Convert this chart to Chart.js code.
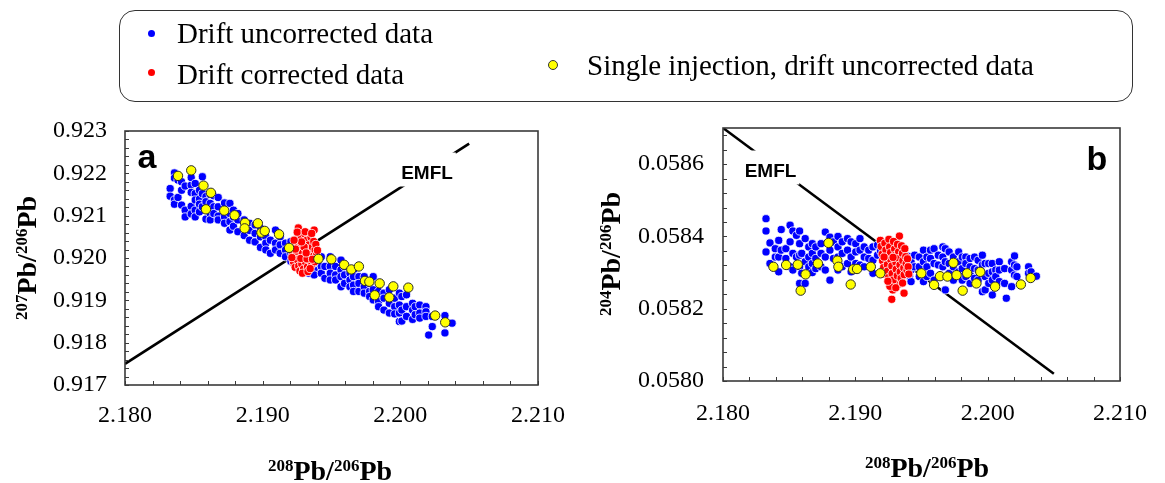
<!DOCTYPE html>
<html>
<head>
<meta charset="utf-8">
<script src="https://cdn.jsdelivr.net/npm/chart.js@4"></script>
<style>
  body { margin: 0; background: #fff; width: 1165px; height: 483px; position: relative; overflow: hidden; }
  canvas { position: absolute; top: 0; }
  #box { position: absolute; left: 119px; top: 10px; width: 1014px; height: 92px; box-sizing: border-box;
         border: 1.5px solid #333; border-radius: 16px; }
  .dot { position: absolute; border-radius: 50%; box-sizing: border-box; }
  .lbl { position: absolute; font-family: 'Liberation Serif', serif; font-size: 29px; line-height: 28px;
         white-space: nowrap; color: #000; }
</style>
</head>
<body>
<canvas id="panelA" width="582" height="483" style="left:0"></canvas>
<canvas id="panelB" width="583" height="483" style="left:582px"></canvas>

<div id="box"></div>
<div class="dot" style="left:147.5px;top:29.5px;width:7px;height:7px;background:#0000ff"></div>
<div class="lbl" style="left:177px;top:19px">Drift uncorrected data</div>
<div class="dot" style="left:147.5px;top:68.5px;width:7px;height:7px;background:#ff0000"></div>
<div class="lbl" style="left:177px;top:60px">Drift corrected data</div>
<div class="dot" style="left:547.5px;top:60px;width:10px;height:10px;background:#ffff00;border:1px solid #333"></div>
<div class="lbl" style="left:587px;top:51px">Single injection, drift uncorrected data</div>

<script>
// ---- data: [208Pb/206Pb, ratio] ----
const xTicks = [2.180, 2.190, 2.200, 2.210];
const yTicksA = [0.917, 0.918, 0.919, 0.920, 0.921, 0.922, 0.923];
const yTicksB = [0.0580, 0.0582, 0.0584, 0.0586];

const emflA = [[2.180, 0.9175], [2.205, 0.9227]];
const emflB = [[2.180, 0.0587], [2.205, 0.05802]];

const yellowA = [
  [2.18385,0.92194],[2.18481,0.92207],[2.18570,0.92171],[2.18624,0.92154],[2.18588,0.92115],
  [2.18721,0.92112],[2.18796,0.92101],[2.18872,0.92083],[2.18869,0.92070],[2.18965,0.92082],
  [2.18991,0.92060],[2.19015,0.92064],[2.19119,0.92056],[2.19192,0.92024],[2.19405,0.91998],
  [2.19499,0.91997],[2.19592,0.91984],[2.19644,0.91973],[2.19699,0.91980],[2.19743,0.91946],
  [2.19775,0.91944],[2.19814,0.91912],[2.19850,0.91940],[2.19920,0.91907],[2.19949,0.91933],
  [2.20058,0.91930],[2.20253,0.91864],[2.20326,0.91848]
];

const yellowB = [
  [2.18381,0.058316],[2.18477,0.058321],[2.18565,0.058322],[2.18624,0.058295],[2.18587,0.058250],
  [2.18717,0.058325],[2.18797,0.058382],[2.18864,0.058333],[2.18872,0.058316],[2.18965,0.058267],
  [2.18984,0.058309],[2.19013,0.058310],[2.19117,0.058316],[2.19189,0.058298],[2.19499,0.058298],
  [2.19595,0.058266],[2.19640,0.058290],[2.19696,0.058289],[2.19741,0.058327],[2.19765,0.058293],
  [2.19811,0.058250],[2.19845,0.058298],[2.19915,0.058270],[2.19944,0.058302],[2.20056,0.058261],
  [2.20251,0.058267],[2.20325,0.058285]
];

const redA = [
  [2.19259,0.92071],[2.19374,0.92066],[2.19226,0.91987],[2.19275,0.92023],[2.19265,0.92005],[2.19348,0.92036],
  [2.19218,0.92012],[2.19223,0.91992],[2.19231,0.92031],[2.19236,0.91978],[2.19243,0.92016],[2.19247,0.92046],
  [2.19252,0.91996],[2.19257,0.92027],[2.19262,0.91981],[2.19268,0.92041],[2.19271,0.91969],[2.19279,0.92052],
  [2.19284,0.91986],[2.19288,0.92011],[2.19293,0.92034],[2.19297,0.91974],[2.19302,0.92001],[2.19306,0.92057],
  [2.19311,0.91991],[2.19314,0.92021],[2.19321,0.92042],[2.19326,0.91979],[2.19331,0.92008],[2.19336,0.92031],
  [2.19342,0.91994],[2.19344,0.92017],[2.19351,0.92049],[2.19356,0.91984],[2.19361,0.92026],[2.19366,0.92004],
  [2.19371,0.92039],[2.19377,0.91991],[2.19381,0.92019],[2.19386,0.92032],[2.19392,0.92007],[2.19398,0.92018],
  [2.19289,0.91964],[2.19329,0.91968],[2.19251,0.92061],[2.19309,0.92062],[2.19356,0.92058],[2.19212,0.92001],
  [2.19277,0.91999],[2.19322,0.91998],[2.19301,0.92026],[2.19238,0.92021],[2.19362,0.91997],[2.19316,0.92012],
  [2.19282,0.92038],[2.19345,0.91975],[2.19228,0.92042]
];

const redB = [
  [2.19189,0.058389],[2.19333,0.058401],[2.19275,0.058226],[2.19283,0.058252],[2.19368,0.058243],[2.19328,0.058268],
  [2.19195,0.058372],[2.19203,0.058351],[2.19206,0.058333],[2.19214,0.058314],[2.19218,0.058296],[2.19223,0.058381],
  [2.19231,0.058362],[2.19234,0.058341],[2.19242,0.058322],[2.19244,0.058304],[2.19251,0.058286],[2.19254,0.058392],
  [2.19259,0.058371],[2.19266,0.058355],[2.19268,0.058336],[2.19276,0.058318],[2.19278,0.058297],[2.19286,0.058279],
  [2.19289,0.058386],[2.19297,0.058365],[2.19299,0.058347],[2.19307,0.058328],[2.19309,0.058309],[2.19317,0.058291],
  [2.19319,0.058378],[2.19327,0.058357],[2.19329,0.058339],[2.19337,0.058321],[2.19339,0.058302],[2.19346,0.058284],
  [2.19349,0.058374],[2.19356,0.058353],[2.19359,0.058333],[2.19366,0.058313],[2.19369,0.058294],[2.19374,0.058366],
  [2.19381,0.058344],[2.19384,0.058325],[2.19391,0.058306],[2.19394,0.058338],[2.19399,0.058316],[2.19404,0.058296],
  [2.19261,0.058262],[2.19306,0.058258],[2.19246,0.058276],[2.19357,0.058271],[2.19217,0.058343],[2.19285,0.058342]
];

const blueA = [
  [2.18328,0.92164],[2.18328,0.92146],
  [2.18359,0.92201],[2.18359,0.92189],[2.18359,0.92137],[2.18359,0.92127],
  [2.18385,0.92184],[2.18385,0.92143],[2.18411,0.92180],[2.18411,0.92125],[2.18411,0.92160],
  [2.18437,0.92113],[2.18437,0.92097],[2.18437,0.92170],
  [2.18481,0.92172],[2.18481,0.92155],[2.18481,0.92122],[2.18481,0.92104],[2.18481,0.92190],
  [2.18510,0.92176],[2.18510,0.92152],[2.18510,0.92137],[2.18510,0.92113],[2.18510,0.92097],
  [2.18541,0.92160],[2.18541,0.92139],[2.18541,0.92127],[2.18541,0.92109],
  [2.18562,0.92192],[2.18562,0.92152],[2.18562,0.92121],
  [2.18588,0.92145],[2.18588,0.92133],[2.18588,0.92092],
  [2.18619,0.92129],[2.18619,0.92105],[2.18619,0.92090],[2.18619,0.92150],
  [2.18645,0.92147],[2.18645,0.92121],[2.18645,0.92105],
  [2.18677,0.92143],[2.18677,0.92121],[2.18677,0.92099],[2.18677,0.92090],
  [2.18723,0.92113],[2.18723,0.92097],[2.18723,0.92082],[2.18723,0.92130],
  [2.18762,0.92129],[2.18762,0.92105],[2.18762,0.92086],[2.18762,0.92066],
  [2.18788,0.92113],[2.18788,0.92097],[2.18788,0.92075],
  [2.18820,0.92090],[2.18820,0.92062],[2.18820,0.92105],
  [2.18866,0.92090],[2.18866,0.92070],[2.18866,0.92053],
  [2.18905,0.92082],[2.18905,0.92042],[2.18905,0.92065],
  [2.18945,0.92078],[2.18945,0.92058],[2.18945,0.92038],
  [2.18984,0.92070],[2.18984,0.92050],[2.18984,0.92025],
  [2.19023,0.92050],[2.19023,0.92035],[2.19023,0.92019],
  [2.19056,0.92042],[2.19056,0.92011],
  [2.19093,0.92066],[2.19093,0.92035],[2.19093,0.92019],
  [2.19127,0.92050],[2.19127,0.92031],[2.19127,0.92011],
  [2.19166,0.92035],[2.19166,0.92019],[2.19166,0.92003],
  [2.19205,0.92039],[2.19205,0.92011],[2.19205,0.91992],
  [2.19244,0.92023],[2.19244,0.92003],[2.19280,0.92030],[2.19330,0.91990],
  [2.19335,0.91964],
  [2.19374,0.91987],[2.19374,0.91972],[2.19374,0.91960],
  [2.19426,0.92003],[2.19426,0.91980],[2.19426,0.91964],
  [2.19452,0.91980],[2.19452,0.91952],
  [2.19491,0.92003],[2.19491,0.91980],[2.19491,0.91964],[2.19491,0.91948],
  [2.19530,0.91980],[2.19530,0.91960],[2.19530,0.91948],
  [2.19569,0.91995],[2.19569,0.91972],[2.19569,0.91956],[2.19569,0.91932],
  [2.19595,0.91980],[2.19595,0.91960],[2.19595,0.91940],
  [2.19634,0.91964],[2.19634,0.91948],[2.19634,0.91932],
  [2.19660,0.91972],[2.19660,0.91956],[2.19660,0.91936],[2.19660,0.91921],
  [2.19699,0.91956],[2.19699,0.91940],[2.19699,0.91921],
  [2.19738,0.91956],[2.19738,0.91932],[2.19738,0.91917],
  [2.19777,0.91940],[2.19777,0.91921],[2.19777,0.91909],
  [2.19803,0.91956],[2.19803,0.91925],[2.19803,0.91901],
  [2.19842,0.91921],[2.19842,0.91897],[2.19842,0.91885],
  [2.19881,0.91917],[2.19881,0.91905],[2.19881,0.91877],
  [2.19920,0.91925],[2.19920,0.91893],[2.19920,0.91870],
  [2.19959,0.91905],[2.19959,0.91885],[2.19959,0.91868],
  [2.19993,0.91917],[2.19993,0.91889],[2.19993,0.91870],[2.19993,0.91850],
  [2.20011,0.91909],[2.20011,0.91877],[2.20011,0.91851],
  [2.20045,0.91913],[2.20045,0.91885],[2.20045,0.91862],
  [2.20089,0.91893],[2.20089,0.91877],[2.20089,0.91855],
  [2.20108,0.91885],[2.20108,0.91866],
  [2.20141,0.91889],[2.20141,0.91870],[2.20141,0.91858],
  [2.20186,0.91885],[2.20186,0.91873],[2.20186,0.91862],
  [2.20206,0.91818],
  [2.20232,0.91862],[2.20232,0.91838],
  [2.20324,0.91864],[2.20324,0.91823],
  [2.20376,0.91846]
];

const blueB = [
  [2.18325,0.058449],[2.18325,0.058415],[2.18325,0.058357],
  [2.18355,0.058382],[2.18355,0.058325],
  [2.18395,0.058343],[2.18395,0.058366],
  [2.18421,0.058389],[2.18421,0.058343],[2.18421,0.058302],
  [2.18440,0.058419],[2.18440,0.058362],
  [2.18475,0.058366],[2.18475,0.058339],
  [2.18507,0.058431],[2.18507,0.058385],[2.18507,0.058316],
  [2.18528,0.058415],[2.18528,0.058353],[2.18528,0.058307],
  [2.18555,0.058403],[2.18555,0.058343],
  [2.18579,0.058415],[2.18579,0.058380],[2.18579,0.058348],[2.18579,0.058316],[2.18579,0.058270],
  [2.18595,0.058353],[2.18595,0.058298],
  [2.18621,0.058394],[2.18621,0.058330],[2.18621,0.058270],
  [2.18648,0.058371],[2.18648,0.058343],[2.18648,0.058316],
  [2.18675,0.058380],[2.18675,0.058353],[2.18675,0.058325],[2.18675,0.058300],
  [2.18701,0.058371],[2.18701,0.058339],[2.18701,0.058311],
  [2.18741,0.058380],[2.18741,0.058353],[2.18741,0.058316],
  [2.18773,0.058412],[2.18773,0.058343],[2.18773,0.058307],
  [2.18808,0.058398],[2.18808,0.058362],[2.18808,0.058279],
  [2.18835,0.058385],[2.18835,0.058339],
  [2.18869,0.058400],[2.18869,0.058371],[2.18869,0.058343],[2.18869,0.058307],
  [2.18901,0.058385],[2.18901,0.058353],[2.18901,0.058316],
  [2.18941,0.058394],[2.18941,0.058362],[2.18941,0.058325],
  [2.18968,0.058385],[2.18968,0.058343],[2.18968,0.058302],
  [2.19003,0.058380],[2.19003,0.058357],[2.19003,0.058325],
  [2.19035,0.058394],[2.19035,0.058362],[2.19035,0.058321],
  [2.19067,0.058371],[2.19067,0.058343],[2.19067,0.058316],
  [2.19101,0.058362],[2.19101,0.058339],
  [2.19133,0.058371],[2.19133,0.058334],[2.19133,0.058298],
  [2.19168,0.058376],[2.19168,0.058348],[2.19190,0.058360],
  [2.19400,0.058345],[2.19410,0.058290],
  [2.19421,0.058330],[2.19421,0.058307],[2.19421,0.058275],
  [2.19448,0.058348],[2.19448,0.058316],
  [2.19483,0.058343],[2.19483,0.058316],[2.19483,0.058289],
  [2.19515,0.058362],[2.19515,0.058330],[2.19515,0.058275],
  [2.19541,0.058343],[2.19541,0.058316],[2.19541,0.058289],
  [2.19568,0.058362],[2.19568,0.058339],[2.19568,0.058298],
  [2.19595,0.058366],[2.19595,0.058325],[2.19595,0.058279],
  [2.19627,0.058348],[2.19627,0.058321],
  [2.19661,0.058371],[2.19661,0.058343],[2.19661,0.058316],
  [2.19680,0.058366],[2.19680,0.058330],[2.19680,0.058252],
  [2.19709,0.058357],[2.19709,0.058325],[2.19709,0.058298],
  [2.19741,0.058343],[2.19741,0.058316],[2.19741,0.058279],
  [2.19781,0.058357],[2.19781,0.058330],[2.19781,0.058302],
  [2.19808,0.058343],[2.19808,0.058311],[2.19808,0.058279],
  [2.19835,0.058343],[2.19835,0.058325],[2.19835,0.058289],
  [2.19867,0.058339],[2.19867,0.058316],[2.19867,0.058298],[2.19867,0.058270],
  [2.19901,0.058343],[2.19901,0.058311],[2.19901,0.058284],
  [2.19928,0.058334],[2.19928,0.058307],[2.19928,0.058279],
  [2.19960,0.058348],[2.19960,0.058321],[2.19960,0.058247],
  [2.19981,0.058325],[2.19981,0.058289],[2.19981,0.058252],
  [2.20008,0.058325],[2.20008,0.058298],[2.20008,0.058270],
  [2.20035,0.058325],[2.20035,0.058302],[2.20035,0.058279],[2.20035,0.058238],
  [2.20061,0.058307],[2.20061,0.058289],[2.20061,0.058261],
  [2.20088,0.058330],[2.20088,0.058307],[2.20088,0.058275],
  [2.20128,0.058311],[2.20128,0.058270],
  [2.20141,0.058229],
  [2.20181,0.058330],[2.20181,0.058307],[2.20181,0.058261],
  [2.20203,0.058346],[2.20203,0.058321],[2.20203,0.058293],
  [2.20221,0.058316],[2.20221,0.058289],
  [2.20309,0.058316],[2.20309,0.058298],
  [2.20328,0.058302],[2.20328,0.058284],
  [2.20368,0.058290]
];

const serif = "'Liberation Serif', 'Times New Roman', serif";
const sans = "'Liberation Sans', Arial, sans-serif";

function toXY(pairs) {
  return pairs.map(p => ({x: p[0], y: p[1]}));
}

// title with superscript mass numbers, e.g. 208Pb/206Pb
function drawIsoTitle(ctx, parts, cx, base, rotate) {
  ctx.save();
  ctx.translate(cx, base);
  if (rotate) ctx.rotate(-Math.PI / 2);
  const big = 'bold 28px ' + serif, small = 'bold 17px ' + serif;
  let total = 0;
  parts.forEach(p => { ctx.font = p[1] ? small : big; total += ctx.measureText(p[0]).width; });
  let x = -total / 2;
  ctx.fillStyle = '#000';
  ctx.textBaseline = 'alphabetic';
  ctx.textAlign = 'left';
  parts.forEach(p => {
    ctx.font = p[1] ? small : big;
    ctx.fillText(p[0], x, p[1] ? -9 : 0);
    x += ctx.measureText(p[0]).width;
  });
  ctx.restore();
}

function makePanel(id, cfg) {
  const deco = {
    id: 'deco',
    afterDraw(chart) {
      const ctx = chart.ctx, a = chart.chartArea;
      const xs = chart.scales.x, ys = chart.scales.y;
      ctx.save();
      // inward tick marks
      ctx.strokeStyle = '#3a3a3a';
      ctx.lineWidth = 1;
      for (let i = 0; i <= 15; i++) {
        const px = Math.round(xs.getPixelForValue(2.180 + i * 0.002)) + 0.5;
        ctx.beginPath(); ctx.moveTo(px, a.bottom); ctx.lineTo(px, a.bottom - 4); ctx.stroke();
      }
      for (let i = 0; ; i++) {
        const v = cfg.yMin + i * cfg.yMinor;
        if (v > cfg.yMax + 1e-9) break;
        const py = Math.round(ys.getPixelForValue(v)) + 0.5;
        ctx.beginPath(); ctx.moveTo(a.left, py); ctx.lineTo(a.left + 4, py); ctx.stroke();
      }
      // frame
      ctx.lineWidth = 1.6;
      ctx.strokeRect(a.left, a.top, a.right - a.left, a.bottom - a.top);

      // EMFL label sitting on the line
      ctx.font = 'bold 19px ' + sans;
      const w = ctx.measureText('EMFL').width;
      const tx = cfg.emflLabel[0] - w / 2, base = cfg.emflLabel[1];
      ctx.fillStyle = '#fff';
      ctx.fillRect(tx - 3, base - 26, w + 6, 34);
      ctx.fillStyle = '#000';
      ctx.textBaseline = 'alphabetic';
      ctx.fillText('EMFL', tx, base);

      // panel letter
      ctx.font = 'bold 34px ' + sans;
      ctx.textAlign = 'center';
      ctx.fillText(cfg.letter, cfg.letterPos[0], cfg.letterPos[1]);
      ctx.restore();

      drawIsoTitle(ctx, [['208', 1], ['Pb/', 0], ['206', 1], ['Pb', 0]], cfg.xTitle[0], cfg.xTitle[1], false);
      drawIsoTitle(ctx, [[cfg.num, 1], ['Pb/', 0], ['206', 1], ['Pb', 0]], cfg.yTitle[0], cfg.yTitle[1], true);
    }
  };

  new Chart(document.getElementById(id), {
    type: 'scatter',
    data: {
      datasets: [
        {label: 'Single injection, drift uncorrected data', data: toXY(cfg.yellow), order: 0,
         pointRadius: 4.7, pointBackgroundColor: '#ffff00', pointBorderColor: '#2b2b2b', pointBorderWidth: 1},
        {label: 'Drift corrected data', data: toXY(cfg.red), order: 1,
         pointRadius: 4.1, pointBackgroundColor: '#ff0000', pointBorderColor: '#ffffff', pointBorderWidth: 0.8},
        {label: 'Drift uncorrected data', data: toXY(cfg.blue), order: 2,
         pointRadius: 4.1, pointBackgroundColor: '#0000ff', pointBorderColor: '#ffffff', pointBorderWidth: 0.8},
        {label: 'EMFL', data: toXY(cfg.emfl), order: 3, showLine: true,
         pointRadius: 0, borderColor: '#000', borderWidth: 2.6}
      ]
    },
    options: {
      responsive: false,
      animation: false,
      events: [],
      layout: {padding: {left: 0, top: cfg.top, right: cfg.right, bottom: 0}},
      plugins: {legend: {display: false}, tooltip: {enabled: false}},
      scales: {
        x: {
          type: 'linear', min: 2.180, max: 2.210,
          grid: {display: false, drawTicks: false}, border: {display: false},
          afterBuildTicks: s => { s.ticks = xTicks.map(v => ({value: v})); },
          afterFit: s => { s.height = cfg.xHeight; },
          ticks: {padding: cfg.xPad, color: '#000', font: {family: serif, size: 24},
                  maxRotation: 0, callback: v => v.toFixed(3)}
        },
        y: {
          type: 'linear', min: cfg.yMin, max: cfg.yMax,
          grid: {display: false, drawTicks: false}, border: {display: false},
          afterBuildTicks: s => { s.ticks = cfg.yTicks.map(v => ({value: v})); },
          afterFit: s => { s.width = cfg.yWidth; },
          ticks: {padding: cfg.yPad, color: '#000', font: {family: serif, size: 24},
                  callback: v => v.toFixed(cfg.digits)}
        }
      }
    },
    plugins: [deco]
  });
}

makePanel('panelA', {
  blue: blueA, red: redA, yellow: yellowA, emfl: emflA,
  yMin: 0.917, yMax: 0.923, yMinor: 0.0002, yTicks: yTicksA, digits: 3,
  top: 131, right: 44, xHeight: 98, yWidth: 125, xPad: 16, yPad: 18,
  emflLabel: [427, 178.5], letter: 'a', letterPos: [147, 168],
  xTitle: [330, 480], yTitle: [36, 258], num: '207'
});

makePanel('panelB', {
  blue: blueB, red: redB, yellow: yellowB, emfl: emflB,
  yMin: 0.0580, yMax: 0.0587, yMinor: 0.00004, yTicks: yTicksB, digits: 4,
  top: 128, right: 30, xHeight: 102, yWidth: 141, xPad: 18, yPad: 19,
  emflLabel: [188.5, 176.5], letter: 'b', letterPos: [515, 170],
  xTitle: [345, 477], yTitle: [38, 254], num: '204'
});
</script>
</body>
</html>
